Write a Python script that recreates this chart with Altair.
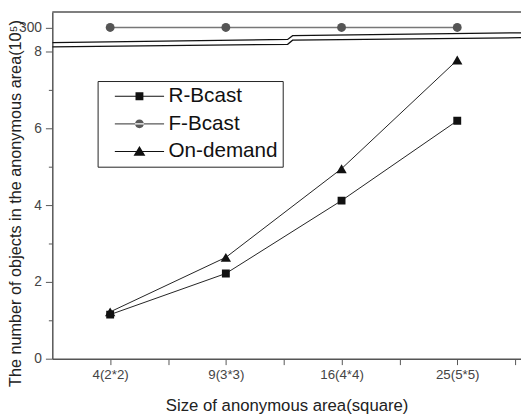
import json
import altair as alt
import pandas as pd

# ---- data ----
categories = ["4(2*2)", "9(3*3)", "16(4*4)", "25(5*5)"]
series_names = ["R-Bcast", "F-Bcast", "On-demand"]
r_bcast = [1.15, 2.22, 4.12, 6.20]
f_bcast = [300, 300, 300, 300]
on_demand = [1.22, 2.64, 4.95, 7.78]

# ---- styling lists ----
marker_shapes = ["square", "circle", "triangle-up"]
marker_sizes = [64, 81, 110]
marker_colors = ["#111111", "#555555", "#111111"]
line_colors = ["#222222", "#777777", "#222222"]
line_widths = [1.0, 1.5, 1.0]
legend_colors = ["#111111", "#5a5a5a", "#111111"]
# legend glyphs: a line with the series marker (units scaled by sqrt(size)/2 = 10px)
legend_paths = [
    "M-2.5,-0.05L2.5,-0.05L2.5,0.05L-2.5,0.05Z M-0.4,-0.4L0.4,-0.4L0.4,0.4L-0.4,0.4Z",
    "M-2.5,-0.06L2.5,-0.06L2.5,0.06L-2.5,0.06Z M-0.45,0A0.45,0.45,0,1,0,0.45,0A0.45,0.45,0,1,0,-0.45,0Z",
    "M-2.5,-0.05L2.5,-0.05L2.5,0.05L-2.5,0.05Z M0,-0.55L0.6,0.45L-0.6,0.45Z",
]

# axis-break decoration (in plotted units)
break_x = [0.5, 2.534, 2.577, 4.551]
break_upper = [8.235, 8.317, 8.415, 8.491]
break_lower = [8.125, 8.191, 8.299, 8.363]

XMAX = 4.551
YMAX = 9.03
BREAK_POS = 8.63  # where the value 300 sits above the axis break
FONT = "Liberation Sans"
W, H = 476, 352

rows = []
for k, (s, vals) in enumerate(zip(series_names, [r_bcast, f_bcast, on_demand])):
    for i, (c, v) in enumerate(zip(categories, vals)):
        rows.append(dict(series=s, idx=i + 1, cat=c, value=v,
                         mk=marker_shapes[k], msize=marker_sizes[k],
                         col=marker_colors[k], lcol=line_colors[k], sw=line_widths[k]))
df = pd.DataFrame(rows)

brows = []
for name, ys_ in [("upper", break_upper), ("lower", break_lower)]:
    for bx, by in zip(break_x, ys_):
        brows.append(dict(line=name, bx=bx, by=by))
bdf = pd.DataFrame(brows)

xs = alt.Scale(domain=[0.5, XMAX], nice=False, zero=False)
ys = alt.Scale(domain=[0, YMAX], nice=False, zero=False)

cat_js = json.dumps(categories)
x_axis = alt.Axis(
    values=[1, 1.5, 2, 2.5, 3, 3.5, 4, 4.5],
    labelExpr=f"datum.value % 1 == 0 ? {cat_js}[datum.value - 1] : ''",
    tickSize=6, tickColor="#555555", domainColor="#555555", domainWidth=1.5,
    labelFont=FONT, labelFontSize=13.5, labelColor="#444444", labelPadding=3,
    title="Size of anonymous area(square)", titleFont=FONT, titleFontSize=17,
    titleFontWeight="normal", titleColor="#222222", titleY=53,
    titleBaseline="alphabetic", grid=False, orient="bottom",
)
y_axis = alt.Axis(
    values=[0, 1, 2, 3, 4, 5, 6, 7, 8, BREAK_POS],
    labelExpr=f"datum.value > 8.5 ? '300' : (datum.value % 2 == 1 ? '' : datum.label)",
    labelOverlap=False,
    tickSize={"condition": {"test": "datum.value % 2 == 1", "value": 4}, "value": 7},
    tickColor="#555555", domainColor="#555555", domainWidth=1.5,
    labelFont=FONT, labelFontSize=14, labelColor="#444444", labelPadding=4,
    title="The number of objects in the anonymous area(10\u2075)", titleFont=FONT,
    titleFontSize=16.5, titleFontWeight="normal", titleColor="#222222",
    titleAngle=270, titleAlign="center", titleBaseline="alphabetic",
    titleX=-32, titleY=194, grid=False, orient="left",
)

base = alt.Chart(df).transform_calculate(
    ypos=f"datum.value > 8 ? {BREAK_POS} : datum.value"
)

lines = base.mark_line(clip=True).encode(
    x=alt.X("idx:Q", scale=xs, axis=x_axis),
    y=alt.Y("ypos:Q", scale=ys, axis=y_axis),
    detail="series:N",
    color=alt.Color("lcol:N", scale=None),
    strokeWidth=alt.StrokeWidth("sw:Q", scale=None),
)

points = base.mark_point(filled=True, opacity=1, clip=True).encode(
    x=alt.X("idx:Q", scale=xs, axis=x_axis),
    y=alt.Y("ypos:Q", scale=ys, axis=y_axis),
    shape=alt.Shape("mk:N", scale=None),
    color=alt.Color("col:N", scale=None),
    size=alt.Size("msize:Q", scale=None),
)

brk = alt.Chart(bdf).mark_line(color="#111111", strokeWidth=1.3, clip=True).encode(
    x=alt.X("bx:Q", scale=xs, axis=x_axis),
    y=alt.Y("by:Q", scale=ys, axis=y_axis),
    detail="line:N",
)

# top frame line of the plot area
top = alt.Chart(pd.DataFrame({"a": [0]})).mark_rule(color="#555555", strokeWidth=1.5).encode(
    x=alt.value(0), x2=alt.value(W), y=alt.value(0)
)

legend = alt.Legend(
    title=None, orient="none", legendX=46, legendY=70,
    padding=5, strokeColor="#222222", fillColor="white",
    symbolSize=400, symbolOffset=27, symbolStrokeWidth=0,
    labelFont=FONT, labelFontSize=21, labelColor="#111111", labelOffset=19,
    rowPadding=6,
)

leg = alt.Chart(pd.DataFrame({"series": series_names})).mark_point(
    filled=True, opacity=1, clip=True
).encode(
    x=alt.value(-300),
    y=alt.value(-300),
    shape=alt.Shape("series:N", scale=alt.Scale(domain=series_names, range=legend_paths), legend=legend),
    color=alt.Color("series:N", scale=alt.Scale(domain=series_names, range=legend_colors), legend=legend),
)

chart = (
    alt.layer(lines, points, brk, top, leg)
    .resolve_scale(color="independent", shape="independent")
    .properties(
        width=W, height=H,
        padding={"left": 45, "top": 1, "right": 0, "bottom": 54},
        autosize=alt.AutoSizeParams(type="none"),
    )
    .configure_view(stroke=None)
)

chart.save("out.html", embed_options={"renderer": "svg", "actions": False})
